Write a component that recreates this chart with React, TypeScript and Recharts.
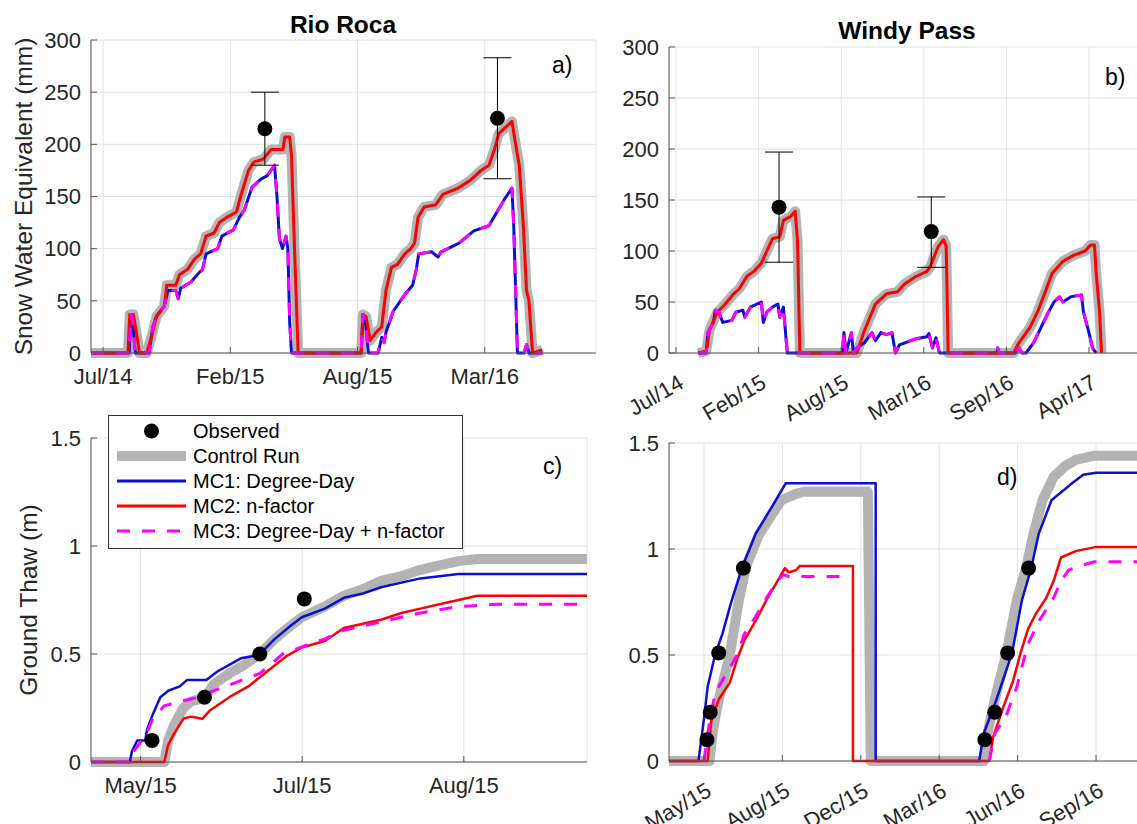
import React from 'react';
import { ComposedChart, Line, Scatter, XAxis, YAxis, CartesianGrid, ErrorBar } from 'recharts';

const FONT = '"Liberation Sans", Arial, Helvetica, sans-serif';
const TXT = '#262626';
const AX = '#555555';
const GRID = '#e2e2e2';
const C_CTRL = '#b3b3b3';
const C_MC1 = '#0a10d0';
const C_MC2 = '#ff0000';
const C_MC3 = '#ff00ff';

type P = [number, number | null];

// ---------- Panel a: Rio Roca SWE (x = days since Jul/14) ----------
const aTicks = [0, 210, 420, 630];
const aTickLabels = ['Jul/14', 'Feb/15', 'Aug/15', 'Mar/16'];
const aCtrl: P[] = [
  [-20, 0], [41, 0], [44, 37], [50, 37], [55, 20], [60, 0], [72, 0], [82, 20], [88, 35], [101, 45], [105, 65], [120, 65],
  [126, 75], [139, 80], [151, 90], [161, 95], [170, 112], [183, 115], [192, 125], [204, 130], [220, 135], [227, 150],
  [240, 175], [249, 183], [265, 186], [277, 195], [297, 195], [300, 207], [308, 207], [311, 190], [316, 100], [322, 0],
  [426, 0], [429, 37], [434, 35], [441, 12], [451, 20], [460, 25], [467, 60], [476, 82], [486, 85], [498, 95], [508, 100],
  [514, 105], [520, 130], [530, 140], [549, 142], [561, 152], [586, 158], [605, 165], [624, 175], [637, 180], [646, 195],
  [653, 210], [662, 215], [675, 222], [681, 200], [687, 180], [694, 120], [699, 60], [703, 50], [709, 0], [725, 3],
];
const aMc2: P[] = aCtrl; // MC2 coincides with the control run at Rio Roca
const aMc1: P[] = [
  [-20, 0], [43, 0], [46, 37], [49, 30], [53, 0], [76, 0], [82, 25], [88, 35], [101, 45], [107, 60], [120, 60], [124, 52],
  [128, 62], [145, 68], [160, 78], [164, 80], [170, 95], [189, 100], [196, 112], [215, 118], [225, 130], [233, 137],
  [246, 159], [259, 166], [271, 170], [283, 180], [287, 150], [291, 110], [296, 100], [302, 112], [305, 100], [308, 30],
  [311, 0], [426, 0], [429, 37], [433, 30], [438, 0], [454, 0], [460, 15], [464, 10], [467, 20], [479, 40], [498, 56],
  [511, 65], [517, 80], [521, 95], [542, 97], [553, 92], [558, 97], [587, 105], [612, 117], [637, 122], [643, 128],
  [650, 135], [662, 147], [675, 158], [678, 120], [684, 0], [695, 0], [699, 8], [703, 0], [725, 0],
];
const aMc3: P[] = aMc1; // MC3 coincides with MC1 at Rio Roca
const aObsX = [267, 651];
const aObsY = [215, 225];
const aObsLo = [180, 167];
const aObsHi = [250, 283];

// ---------- Panel b: Windy Pass SWE ----------
const bTicks = [0, 210, 420, 630, 840, 1050];
const bTickLabels = ['Jul/14', 'Feb/15', 'Aug/15', 'Mar/16', 'Sep/16', 'Apr/17'];
const bCtrl: P[] = [
  [56, 0], [77, 2], [85, 22], [105, 40], [123, 47], [147, 58], [161, 63], [180, 75], [198, 80], [217, 88], [231, 100],
  [245, 112], [264, 114], [273, 130], [292, 134], [303, 139], [309, 110], [315, 0], [460, 0], [479, 22], [507, 48],
  [535, 58], [563, 60], [582, 68], [610, 75], [638, 80], [647, 85], [666, 104], [680, 111], [687, 105], [692, 0],
  [858, 0], [872, 10], [900, 25], [919, 40], [937, 58], [956, 78], [984, 90], [1012, 96], [1040, 100], [1054, 106],
  [1064, 106], [1068, 80], [1077, 40], [1082, 0],
];
const bMc2: P[] = bCtrl;
const bMc1: P[] = [
  [56, 0], [77, 0], [81, 20], [95, 30], [100, 42], [109, 40], [119, 30], [142, 32], [152, 40], [170, 42], [175, 35],
  [189, 45], [217, 50], [222, 30], [231, 40], [245, 45], [259, 48], [264, 35], [273, 45], [283, 0], [423, 0], [427, 20],
  [432, 0], [446, 20], [451, 0], [460, 5], [479, 10], [498, 20], [507, 12], [521, 20], [535, 18], [549, 20], [558, 0],
  [568, 8], [582, 10], [610, 14], [638, 16], [643, 19], [652, 5], [661, 15], [670, 0], [816, 0], [818, 5], [822, 0],
  [862, 0], [872, 5], [880, 0], [890, 0], [909, 10], [928, 25], [947, 40], [961, 50], [975, 55], [984, 50], [1003, 55],
  [1031, 57], [1036, 40], [1050, 20], [1059, 5], [1068, 0],
];
const bMc3: P[] = bMc1;
const bObsX = [262, 649];
const bObsY = [143, 119];
const bObsLo = [89, 84];
const bObsHi = [197, 153];

// ---------- Panel c: Rio Roca ground thaw (x = days since May/15) ----------
const cTicks = [0, 45, 90];
const cTickLabels = ['May/15', 'Jul/15', 'Aug/15'];
const cCtrl: P[] = [
  [-13.8, 0], [6.6, 0], [7.7, 0.1], [9.3, 0.17], [11.9, 0.25], [14, 0.28], [16.2, 0.29], [18.3, 0.31], [20.4, 0.36],
  [24.7, 0.41], [28.9, 0.45], [33.2, 0.5], [37.4, 0.57], [41.7, 0.63], [44.9, 0.67], [51.3, 0.72], [56.6, 0.77],
  [61.9, 0.8], [67.2, 0.84], [72.6, 0.86], [77.9, 0.89], [83.2, 0.91], [88.5, 0.93], [93.8, 0.94], [124.3, 0.94],
];
const cMc1: P[] = [
  [-13.8, 0], [-3, 0], [-2.4, 0.05], [-0.9, 0.1], [1.3, 0.1], [1.8, 0.15], [3.4, 0.22], [5.5, 0.3], [7.7, 0.33],
  [10.9, 0.35], [13, 0.38], [18.3, 0.38], [21.5, 0.42], [24.7, 0.45], [27.9, 0.48], [31.1, 0.49], [33.2, 0.5],
  [37.4, 0.57], [41.7, 0.63], [44.9, 0.67], [51.3, 0.71], [56.6, 0.76], [61.9, 0.78], [67.2, 0.81], [77.9, 0.85],
  [88.5, 0.87], [124.3, 0.87],
];
const cMc2: P[] = [
  [-13.8, 0], [6.6, 0], [7.7, 0.08], [9.3, 0.13], [11.9, 0.2], [14, 0.21], [17.2, 0.2], [19.4, 0.24], [24.7, 0.3],
  [30, 0.35], [35.3, 0.42], [40.6, 0.49], [44.9, 0.53], [51.3, 0.56], [56.6, 0.62], [61.9, 0.64], [67.2, 0.66],
  [72.6, 0.69], [77.9, 0.71], [83.2, 0.73], [88.5, 0.75], [93.8, 0.77], [124.3, 0.77],
];
const cMc3: P[] = [
  [-13.8, 0], [-3, 0], [-1.9, 0.05], [1.3, 0.12], [3.4, 0.2], [6.6, 0.26], [10.9, 0.28], [16.2, 0.3], [20.4, 0.33],
  [26.8, 0.37], [33.2, 0.41], [39.6, 0.5], [46, 0.54], [51.3, 0.57], [56.6, 0.61], [61.9, 0.63], [67.2, 0.65],
  [77.9, 0.69], [88.5, 0.72], [99.1, 0.73], [124.3, 0.73],
];
const cObsX = [3.2, 17.8, 33.2, 45.6];
const cObsY = [0.1, 0.3, 0.5, 0.755];

// ---------- Panel d: Windy Pass ground thaw ----------
const dTicks = [0, 100, 200, 300, 400, 500];
const dTickLabels = ['May/15', 'Aug/15', 'Dec/15', 'Mar/16', 'Jun/16', 'Sep/16'];
const dCtrl: P[] = [
  [-44.6, 0], [7, 0], [11.7, 0.15], [18.8, 0.29], [32.9, 0.5], [44.6, 0.76], [54, 0.92], [70.4, 1.07], [98.6, 1.23],
  [117.4, 1.26], [127, 1.27], [209, 1.27], [212.7, 0], [356.8, 0], [361.6, 0.13], [370.9, 0.29], [385.9, 0.51],
  [399, 0.76], [410.7, 0.91], [420.1, 1.07], [431.8, 1.23], [446, 1.34], [460, 1.39], [474.2, 1.42], [497.7, 1.44],
  [581.6, 1.44],
];
const dMc1: P[] = [
  [-44.6, 0], [-7, 0], [0, 0.2], [4.7, 0.35], [14.1, 0.5], [23.5, 0.6], [35.2, 0.755], [49.3, 0.92], [65.7, 1.07],
  [91.6, 1.23], [104.2, 1.31], [219, 1.31], [219, 0], [351, 0], [356.8, 0.13], [373, 0.29], [393, 0.51], [405.6, 0.76],
  [417.4, 0.91], [426.8, 1.07], [443.2, 1.23], [469.5, 1.31], [483.6, 1.35], [500, 1.36], [581.6, 1.36],
];
const dMc2: P[] = [
  [-44.6, 0], [4.7, 0], [9.4, 0.19], [18.8, 0.29], [32.9, 0.37], [42.3, 0.48], [51.6, 0.57], [65.7, 0.66], [79.8, 0.76],
  [93.9, 0.85], [103.3, 0.91], [108, 0.89], [117.4, 0.9], [122, 0.92], [190, 0.92], [190, 0], [363.9, 0], [368.6, 0.11],
  [380.3, 0.24], [394.4, 0.38], [403.8, 0.51], [413, 0.62], [422.6, 0.69], [436.6, 0.77], [446, 0.85], [455.4, 0.96],
  [474.2, 0.99], [500, 1.01], [581.6, 1.01],
];
const dMc3: P[] = [
  [0, 0], [4.7, 0.13], [14.1, 0.32], [28.2, 0.41], [42.3, 0.5], [51.6, 0.6], [65.7, 0.68], [79.8, 0.77], [93.9, 0.85],
  [101, 0.88], [108, 0.87], [188, 0.87], [189, null], [363.9, 0], [370.9, 0.13], [385, 0.21], [399, 0.35], [413, 0.55],
  [427.2, 0.66], [446, 0.77], [455.4, 0.85], [465, 0.9], [478.9, 0.92], [497.7, 0.94], [581.6, 0.94],
];
const dObsX = [3.8, 8, 18.8, 50.2, 358.2, 370.9, 387.3, 414.1];
const dObsY = [0.1, 0.23, 0.51, 0.91, 0.1, 0.23, 0.51, 0.91];

const sweTicks = [0, 50, 100, 150, 200, 250, 300];
const thawTicks = [0, 0.5, 1, 1.5];

const legendItems = ['Observed', 'Control Run', 'MC1: Degree-Day', 'MC2: n-factor', 'MC3: Degree-Day + n-factor'];

// ---------- helpers ----------
const pts = (a: P[]) => a.map(([x, y]) => ({ x, y }));
const obsPts = (xs: number[], ys: number[], lo?: number[], hi?: number[]) =>
  xs.map((x, i) => ({ x, y: ys[i], err: lo && hi ? [ys[i] - lo[i], hi[i] - ys[i]] : undefined }));

type Series = { data: P[]; color: string; w: number; dash?: string };

const RotTick = (p: any) => {
  const { x, y, payload, labels, ticks } = p;
  const i = ticks.indexOf(payload.value);
  const ax = x + 9;
  const ay = y + 34;
  return (
    <text x={ax} y={ay} textAnchor="end" fill={TXT} fontSize={22} fontFamily={FONT} transform={`rotate(-30 ${ax} ${ay})`}>
      {labels[i]}
    </text>
  );
};

const Dot = (p: any) => (p.cx == null ? null : <circle cx={p.cx} cy={p.cy} r={7.5} fill="#000" />);

function Panel(props: {
  left: number; top: number; width: number; height: number;
  margin: { top: number; right: number; bottom: number; left: number };
  yW: number; xDom: [number, number]; xTicks: number[]; xLabels: string[];
  yDom: [number, number]; yTicks: number[]; rotate?: boolean;
  series: Series[]; obs: any[]; withErr?: boolean;
}) {
  const { left, top, width, height, margin, yW, xDom, xTicks, xLabels, yDom, yTicks, rotate, series, obs, withErr } = props;
  return (
    <div style={{ position: 'absolute', left, top, width, height }}>
      <ComposedChart width={width} height={height} margin={margin}>
        <CartesianGrid stroke={GRID} strokeWidth={1} />
        <XAxis
          type="number" dataKey="x" domain={xDom} ticks={xTicks} interval={0} height={40}
          stroke={AX} tickSize={-6} tickMargin={rotate ? 6 : 21}
          tick={rotate ? (p: any) => <RotTick {...p} labels={xLabels} ticks={xTicks} /> : { fill: TXT, fontSize: 22, fontFamily: FONT }}
          tickFormatter={(v: number) => xLabels[xTicks.indexOf(v)]}
        />
        <XAxis xAxisId="top" orientation="top" type="number" dataKey="x" domain={xDom} ticks={xTicks} interval={0}
          height={0} tick={false} tickSize={-6} stroke={AX} />
        <YAxis
          type="number" dataKey="y" domain={yDom} ticks={yTicks} interval={0} width={yW}
          stroke={AX} tickSize={-6} tickMargin={16}
          tick={{ fill: TXT, fontSize: 22, fontFamily: FONT }}
          tickFormatter={(v: number) => String(v)}
        />
        <YAxis yAxisId="right" orientation="right" type="number" dataKey="y" domain={yDom} ticks={yTicks} interval={0}
          width={0} tick={false} tickSize={-6} stroke={AX} />
        {series.map((s, i) => (
          <Line
            key={i} data={pts(s.data)} dataKey="y" type="linear" stroke={s.color} strokeWidth={s.w}
            strokeDasharray={s.dash} strokeLinejoin="round" dot={false} activeDot={false}
            isAnimationActive={false} connectNulls={false} legendType="none"
          />
        ))}
        <Scatter data={obs} dataKey="y" isAnimationActive={false} shape={Dot} legendType="none">
          {withErr ? <ErrorBar dataKey="err" direction="y" width={14} strokeWidth={1} stroke="#000" /> : null}
        </Scatter>
      </ComposedChart>
    </div>
  );
}

function Overlay() {
  const rowsY = [431, 456, 481, 506, 531];
  return (
    <svg width={1137} height={824} style={{ position: 'absolute', left: 0, top: 0, pointerEvents: 'none' }}>
      <text x={343} y={33} textAnchor="middle" fontFamily={FONT} fontWeight="bold" fontSize={24.5} fill="#000">Rio Roca</text>
      <text x={907} y={39} textAnchor="middle" fontFamily={FONT} fontWeight="bold" fontSize={24.5} fill="#000">Windy Pass</text>
      <text x={32} y={196.5} transform="rotate(-90 32 196.5)" textAnchor="middle" fontFamily={FONT} fontSize={24.5} fill={TXT}>
        Snow Water Equivalent (mm)
      </text>
      <text x={37} y={600} transform="rotate(-90 37 600)" textAnchor="middle" fontFamily={FONT} fontSize={24.5} fill={TXT}>
        Ground Thaw (m)
      </text>
      <text x={552} y={73} fontFamily={FONT} fontSize={23} fill="#000">a)</text>
      <text x={1105} y={85} fontFamily={FONT} fontSize={23} fill="#000">b)</text>
      <text x={543} y={474} fontFamily={FONT} fontSize={23} fill="#000">c)</text>
      <text x={997} y={485} fontFamily={FONT} fontSize={23} fill="#000">d)</text>
      <g>
        <rect x={108.5} y={415.5} width={354} height={133} fill="#fff" stroke="#333" strokeWidth={1} />
        <circle cx={151.5} cy={rowsY[0]} r={7.5} fill="#000" />
        <line x1={117} x2={186} y1={rowsY[1]} y2={rowsY[1]} stroke={C_CTRL} strokeWidth={10} />
        <line x1={117} x2={186} y1={rowsY[2]} y2={rowsY[2]} stroke={C_MC1} strokeWidth={3} />
        <line x1={117} x2={186} y1={rowsY[3]} y2={rowsY[3]} stroke={C_MC2} strokeWidth={3} />
        <line x1={117} x2={186} y1={rowsY[4]} y2={rowsY[4]} stroke={C_MC3} strokeWidth={3} strokeDasharray="13 12" />
        {legendItems.map((t, i) => (
          <text key={t} x={193} y={rowsY[i] + 7.2} fontFamily={FONT} fontSize={20} fill="#000">{t}</text>
        ))}
      </g>
    </svg>
  );
}

export default function App() {
  return (
    <div style={{ position: 'absolute', left: 0, top: 0, width: 1137, height: 824, overflow: 'hidden', background: '#fff', fontFamily: FONT }}>
      <Panel
        left={0} top={0} width={600} height={400} margin={{ top: 40, right: 4, bottom: 7, left: 0 }} yW={91}
        xDom={[-20, 813.7]} xTicks={aTicks} xLabels={aTickLabels} yDom={[0, 300]} yTicks={sweTicks}
        series={[
          { data: aCtrl, color: C_CTRL, w: 10 },
          { data: aMc1, color: C_MC1, w: 3 },
          { data: aMc2, color: C_MC2, w: 3 },
          { data: aMc3, color: C_MC3, w: 3, dash: '13 12' },
        ]}
        obs={obsPts(aObsX, aObsY, aObsLo, aObsHi)} withErr
      />
      <Panel
        left={580} top={0} width={580} height={430} margin={{ top: 47, right: 0, bottom: 37, left: 0 }} yW={89}
        xDom={[-17.8, 1230.6]} xTicks={bTicks} xLabels={bTickLabels} yDom={[0, 300]} yTicks={sweTicks} rotate
        series={[
          { data: bCtrl, color: C_CTRL, w: 10 },
          { data: bMc1, color: C_MC1, w: 3 },
          { data: bMc2, color: C_MC2, w: 3 },
          { data: bMc3, color: C_MC3, w: 3, dash: '13 12' },
        ]}
        obs={obsPts(bObsX, bObsY, bObsLo, bObsHi)} withErr
      />
      <Panel
        left={0} top={400} width={600} height={424} margin={{ top: 38, right: 13, bottom: 22, left: 0 }} yW={91}
        xDom={[-13.8, 124.3]} xTicks={cTicks} xLabels={cTickLabels} yDom={[0, 1.5]} yTicks={thawTicks}
        series={[
          { data: cCtrl, color: C_CTRL, w: 10 },
          { data: cMc1, color: C_MC1, w: 2.5 },
          { data: cMc2, color: C_MC2, w: 2.5 },
          { data: cMc3, color: C_MC3, w: 3, dash: '13 12' },
        ]}
        obs={obsPts(cObsX, cObsY)}
      />
      <Panel
        left={580} top={400} width={580} height={424} margin={{ top: 43, right: 0, bottom: 23, left: 0 }} yW={89}
        xDom={[-44.6, 581.6]} xTicks={dTicks} xLabels={dTickLabels} yDom={[0, 1.5]} yTicks={thawTicks} rotate
        series={[
          { data: dCtrl, color: C_CTRL, w: 10 },
          { data: dMc1, color: C_MC1, w: 2.5 },
          { data: dMc2, color: C_MC2, w: 2.5 },
          { data: dMc3, color: C_MC3, w: 3, dash: '13 12' },
        ]}
        obs={obsPts(dObsX, dObsY)}
      />
      <Overlay />
    </div>
  );
}
